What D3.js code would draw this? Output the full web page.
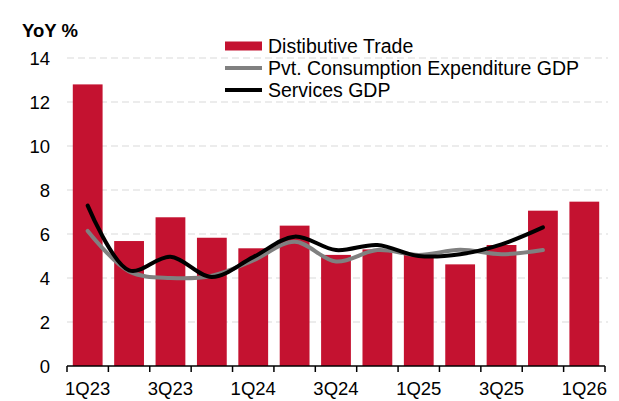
<!DOCTYPE html>
<html>
<head>
<meta charset="utf-8">
<script src="https://cdn.jsdelivr.net/npm/d3@7"></script>
<style>
  body { margin: 0; background: #fff; }
  svg { display: block; font-family: "Liberation Sans", Arial, sans-serif; }
</style>
</head>
<body>
<div id="chart"></div>
<script>
// Data
const quarters = ["1Q23", "2Q23", "3Q23", "4Q23", "1Q24", "2Q24", "3Q24", "4Q24", "1Q25", "2Q25", "3Q25", "4Q25", "1Q26"];
const distributiveTrade = [12.8, 5.68, 6.76, 5.83, 5.35, 6.38, 5.05, 5.3, 5.12, 4.62, 5.5, 7.06, 7.47];
const pceGdp = [6.14, 4.3, 4.0, 4.1, 4.8, 5.65, 4.75, 5.27, 5.05, 5.28, 5.08, 5.27];
const servicesGdp = [7.29, 4.35, 4.97, 4.05, 4.95, 5.88, 5.27, 5.5, 5.0, 5.08, 5.53, 6.3];
const yTicks = [0, 2, 4, 6, 8, 10, 12, 14];
const xLabels = ["1Q23", "3Q23", "1Q24", "3Q24", "1Q25", "3Q25", "1Q26"];

const COLORS = {
  bar: "#C41230",
  pce: "#808080",
  services: "#000000",
  grid: "#D9D9D9",
  text: "#000000",
};

const FONT = {
  axis: "18.5px",
  legend: "19.5px",
  title: "18.5px",
};

const width = 619;
const height = 401;
const margin = { top: 58, right: 14, bottom: 35, left: 67 };

const svg = d3.select("#chart").append("svg")
  .attr("width", width)
  .attr("height", height);

const x = d3.scaleBand()
  .domain(quarters)
  .range([margin.left, width - margin.right])
  .paddingInner(0.28)
  .paddingOuter(0.14);

const y = d3.scaleLinear()
  .domain([0, 14])
  .range([height - margin.bottom, margin.top]);

// Gridlines
svg.append("g")
  .selectAll("line")
  .data(yTicks.filter((d) => d > 0))
  .enter()
  .append("line")
  .attr("x1", margin.left)
  .attr("x2", width - margin.right + 3)
  .attr("y1", (d) => y(d))
  .attr("y2", (d) => y(d))
  .attr("stroke", COLORS.grid)
  .attr("stroke-width", 1)
  .attr("stroke-dasharray", "7,4");

// Y labels
svg.append("g")
  .selectAll("text")
  .data(yTicks)
  .enter()
  .append("text")
  .attr("x", 50)
  .attr("y", (d) => y(d) + 6.5)
  .attr("text-anchor", "end")
  .style("font-size", FONT.axis)
  .attr("fill", COLORS.text)
  .text((d) => d);

svg.append("text")
  .attr("x", 22)
  .attr("y", 37)
  .style("font-size", FONT.title)
  .style("font-weight", "bold")
  .text("YoY %");

// Bars
svg.append("g")
  .selectAll("rect")
  .data(distributiveTrade)
  .enter()
  .append("rect")
  .attr("x", (d, i) => x(quarters[i]))
  .attr("y", (d) => y(d))
  .attr("width", x.bandwidth())
  .attr("height", (d) => y(0) - y(d))
  .attr("fill", COLORS.bar);

// Lines
const line = d3.line()
  .x((d, i) => x(quarters[i]) + x.bandwidth() / 2)
  .y((d) => y(d))
  .curve(d3.curveCatmullRom.alpha(0.5));

svg.append("path")
  .datum(pceGdp)
  .attr("d", line)
  .attr("fill", "none")
  .attr("stroke", COLORS.pce)
  .attr("stroke-width", 4)
  .attr("stroke-linecap", "round");

svg.append("path")
  .datum(servicesGdp)
  .attr("d", line)
  .attr("fill", "none")
  .attr("stroke", COLORS.services)
  .attr("stroke-width", 4)
  .attr("stroke-linecap", "round");

// X axis
const axisY = y(0);
svg.append("line")
  .attr("x1", margin.left)
  .attr("x2", width - margin.right)
  .attr("y1", axisY)
  .attr("y2", axisY)
  .attr("stroke", "#000")
  .attr("stroke-width", 1.5);

const boundaries = d3.range(quarters.length + 1).map((i) => margin.left + i * x.step());
svg.append("g")
  .selectAll("line")
  .data(boundaries)
  .enter()
  .append("line")
  .attr("x1", (d) => d)
  .attr("x2", (d) => d)
  .attr("y1", axisY)
  .attr("y2", axisY + 6)
  .attr("stroke", "#000")
  .attr("stroke-width", 1.5);

svg.append("g")
  .selectAll("text")
  .data(xLabels)
  .enter()
  .append("text")
  .attr("x", (d) => x(d) + x.bandwidth() / 2)
  .attr("y", axisY + 29)
  .attr("text-anchor", "middle")
  .style("font-size", FONT.axis)
  .text((d) => d);

// Legend
const legendItems = [
  { label: "Distibutive Trade", type: "bar", color: COLORS.bar },
  { label: "Pvt. Consumption Expenditure GDP", type: "line", color: COLORS.pce },
  { label: "Services GDP", type: "line", color: COLORS.services },
];

const legend = svg.append("g")
  .attr("transform", "translate(225, 46)");

legendItems.forEach((item, i) => {
  const g = legend.append("g").attr("transform", `translate(0, ${i * 22})`);
  if (item.type === "bar") {
    g.append("rect")
      .attr("x", 0)
      .attr("y", -4.5)
      .attr("width", 37)
      .attr("height", 9)
      .attr("fill", item.color);
  } else {
    g.append("line")
      .attr("x1", 0)
      .attr("x2", 37)
      .attr("y1", 0)
      .attr("y2", 0)
      .attr("stroke", item.color)
      .attr("stroke-width", 4);
  }
  g.append("text")
    .attr("x", 43)
    .attr("y", 6.5)
    .style("font-size", FONT.legend)
    .text(item.label);
});
</script>
</body>
</html>
